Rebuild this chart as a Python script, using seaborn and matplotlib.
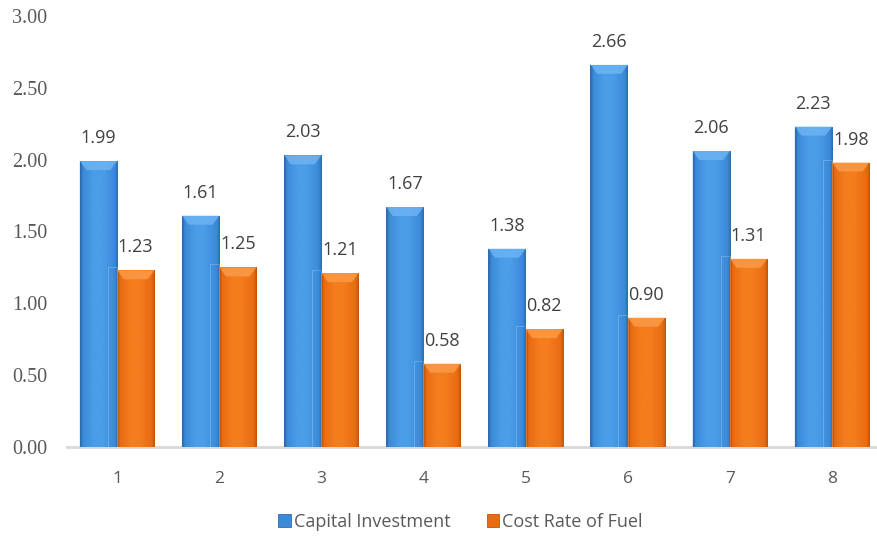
import matplotlib
matplotlib.use("Agg")
import matplotlib.pyplot as plt
import numpy as np
import pandas as pd
import seaborn as sns
from matplotlib.colors import LinearSegmentedColormap
from matplotlib.patches import Polygon, Rectangle

cases = ["1", "2", "3", "4", "5", "6", "7", "8"]
capital_investment = [1.99, 1.61, 2.03, 1.67, 1.38, 2.66, 2.06, 2.23]
cost_rate_fuel = [1.23, 1.25, 1.21, 0.58, 0.82, 0.90, 1.31, 1.98]
series_names = ["Capital Investment", "Cost Rate of Fuel"]
y_ticks = [0.0, 0.5, 1.0, 1.5, 2.0, 2.5, 3.0]

# (dark edge, body, highlight, top bevel)
shades = {
    "Capital Investment": ("#2f6cae", "#3b8ad8", "#4b9de8", "#6cb3f2"),
    "Cost Rate of Fuel": ("#bf560b", "#e96b12", "#f47d1d", "#fb9a48"),
}


def gradient_strip(dark, body, light):
    cols = [dark, body, light, light, body, dark]
    pos = [0.0, 0.07, 0.35, 0.6, 0.92, 1.0]
    cmap = LinearSegmentedColormap.from_list("g", list(zip(pos, cols)))
    return cmap(np.linspace(0, 1, 64))[None, :, :]


def main():
    sns.set_theme(style="white")
    df = pd.DataFrame({
        "case": cases * 2,
        "value": capital_investment + cost_rate_fuel,
        "series": [series_names[0]] * len(cases) + [series_names[1]] * len(cases),
    })

    fig = plt.figure(figsize=(8.77, 5.41), dpi=100)
    ax = fig.add_axes([0.0764, 0.1738, 0.9236, 0.7966])

    sns.barplot(data=df, x="case", y="value", hue="series", order=cases,
                hue_order=series_names,
                palette=[shades[s][1] for s in series_names],
                width=0.73, gap=0, saturation=1, legend=False, ax=ax,
                err_kws={"linewidth": 0})

    xlim = (-0.49, 7.44)
    ylim = (0, 3.0)
    px_y = (ylim[1] - ylim[0]) / 431.0

    for cont, name in zip(ax.containers, series_names):
        dark, body, light, top = shades[name]
        strip = gradient_strip(dark, body, light)
        for bar, val in zip(cont, cont.datavalues):
            x0 = bar.get_x()
            w = bar.get_width()
            h = bar.get_height()
            bar.set_edgecolor("none")
            im = ax.imshow(strip, extent=[x0, x0 + w, 0, h], aspect="auto",
                           interpolation="bilinear", zorder=2)
            im.set_clip_path(bar)
            dx = w * 0.18
            dy = 9 * px_y
            ax.add_patch(Polygon([(x0, h), (x0 + w, h), (x0 + w - dx, h - dy),
                                  (x0 + dx, h - dy)], closed=True,
                                 facecolor=top, edgecolor="none", alpha=0.85,
                                 zorder=3))
            ax.add_patch(Polygon([(x0, h), (x0 + w * 0.06, h - 2 * px_y),
                                  (x0 + w * 0.06, 0), (x0, 0)], closed=True,
                                 facecolor=dark, edgecolor="none", alpha=0.5,
                                 zorder=3))
            if name == series_names[1]:
                ax.add_patch(Rectangle((x0 - w * 0.25, 0), w * 0.25, h + 3 * px_y,
                                       fill=False, edgecolor="white", linewidth=0.7,
                                       alpha=0.22, zorder=4))
            ax.text(x0 + w / 2, h + 23 * px_y, f"{val:.2f}", ha="center",
                    va="center", fontsize=13, color="#404040",
                    family="Open Sans", zorder=5)

    ax.set_xlim(*xlim)
    ax.set_ylim(*ylim)
    ax.set_yticks(y_ticks)
    ax.set_yticklabels([f"{t:.2f}" for t in y_ticks], family="Liberation Serif",
                       fontsize=14.5, color="#595959")
    ax.set_xticks(range(len(cases)))
    ax.set_xticklabels(cases, family="Open Sans", fontsize=12.5, color="#595959")
    ax.tick_params(axis="x", length=0, pad=17)
    ax.tick_params(axis="y", length=0, pad=14)
    ax.set_xlabel("")
    ax.set_ylabel("")
    for side in ["top", "right", "left"]:
        ax.spines[side].set_visible(False)
    ax.spines["bottom"].set_color("#d9d9d9")
    ax.spines["bottom"].set_linewidth(2)
    ax.spines["bottom"].set_zorder(1)
    ax.set_facecolor("white")

    handles = [Rectangle((0, 0), 1, 1, facecolor=shades[s][1], edgecolor=shades[s][0],
                         linewidth=0.6) for s in series_names]
    fig.legend(handles, series_names, loc="center", bbox_to_anchor=(0.525, 0.035),
               ncol=2, frameon=False, handlelength=0.7, handleheight=0.7,
               handletextpad=0.15, columnspacing=2.0,
               prop={"family": "Open Sans", "size": 13}, labelcolor="#595959")

    fig.savefig("out.png", dpi=100)
    plt.close(fig)


if __name__ == "__main__":
    main()
